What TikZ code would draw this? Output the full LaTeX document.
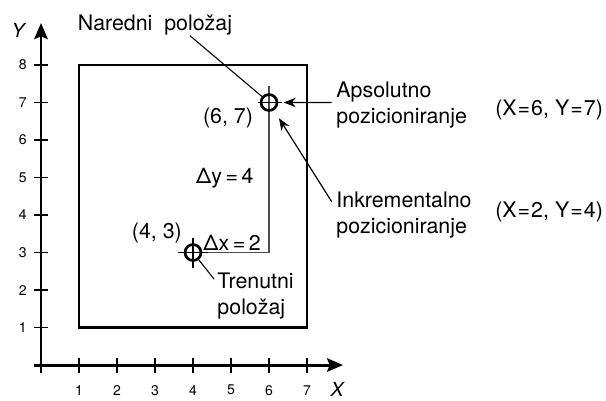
\documentclass[tikz,border=0pt]{standalone}
\usepackage{fontspec}
\setmainfont{TeX Gyre Heros}
\usetikzlibrary{arrows.meta}

\begin{document}
\begin{tikzpicture}[
    x=1cm, y=0.987cm,
    axis/.style={line width=2.2pt, -{Stealth[length=12pt, width=10pt, inset=2pt]}},
    tick/.style={line width=1.1pt},
    ticklabel/.style={font=\fontsize{10.5}{12}\selectfont},
    axlabel/.style={font=\fontsize{14.5}{16}\selectfont\itshape, inner sep=0pt},
    txt/.style={font=\fontsize{16}{19}\selectfont, align=left},
    posmark/.style={draw, circle, line width=2pt, minimum size=0.42cm, inner sep=0pt},
    move/.style={line width=1.1pt, black!70},
    lead/.style={line width=0.8pt},
    flow/.style={-{Stealth[length=9pt, width=7pt]}, line width=0.9pt},
]
    \useasboundingbox (-1.079, -0.933) rectangle (14.868, 9.733);

    % axes and ticks
    \draw[axis] (-0.18, 0) -- (7.95, 0);
    \draw[axis] (0, -0.22) -- (0, 9.12);
    \foreach \i in {1, ..., 7} {
        \draw[tick] (\i, -0.2) -- (\i, 0.2);
        \node[ticklabel] at (\i, -0.67) {\i};
    }
    \foreach \i in {1, ..., 8} {
        \draw[tick] (-0.18, \i) -- (0.18, \i);
        \node[ticklabel] at (-0.48, \i) {\i};
    }
    \node[axlabel] (xlab) at (7.79, -0.64) {X};
    \node[axlabel] (ylab) at (-0.6, 8.93) {Y};

    % work area
    \draw[line width=2pt] (1, 1) rectangle (7, 8);

    % path of the move
    \draw[move] (4, 3) -- (6, 3) -- (6, 7.45);
    \draw[tick] (3.6, 3) -- (4.4, 3);
    \draw[tick] (4, 2.6) -- (4, 3.4);
    \draw[tick] (5.7, 7) -- (6.35, 7);
    \node[posmark] (cur) at (4, 3) {};
    \node[posmark] (nxt) at (6, 7) {};

    \node[txt] (dx) at (5.03, 3.25) {Δx\,=\,2};
    \node[txt] (dy) at (4.84, 4.99) {Δy\,=\,4};
    \node[txt] (pnxt) at (4.92, 6.59) {(6, 7)};
    \node[txt] (pcur) at (3.05, 3.52) {(4, 3)};

    % labels
    \node[txt] (naredni) at (3.0, 9.07) {Naredni\ \ položaj};
    \node[txt, anchor=west] (tren) at (4.52, 1.84) {Trenutni\\položaj};
    \node[txt, anchor=west] (aps) at (7.65, 6.93) {Apsolutno\\pozicioniranje};
    \node[txt, anchor=west] (ink) at (7.65, 4.0) {Inkrementalno\\pozicioniranje};
    \node[txt] (apsval) at (13.37, 6.8) {(X\kern0.8pt=\kern0.8pt6, Y\kern0.8pt=\kern0.8pt7)};
    \node[txt] (inkval) at (13.37, 4.08) {(X\kern0.8pt=\kern0.8pt2, Y\kern0.8pt=\kern0.8pt4)};

    \draw[lead] ([xshift=0.92cm, yshift=3pt]naredni.south) -- (nxt);
    \draw[lead] ([xshift=1pt, yshift=-8pt]tren.north west) -- (cur);
    \draw[flow, shorten >=4pt] ([yshift=2pt]aps.west) -- (nxt);
    \draw[flow, shorten >=7pt] ([yshift=0.35cm]ink.west) -- (nxt);
\end{tikzpicture}
\end{document}
